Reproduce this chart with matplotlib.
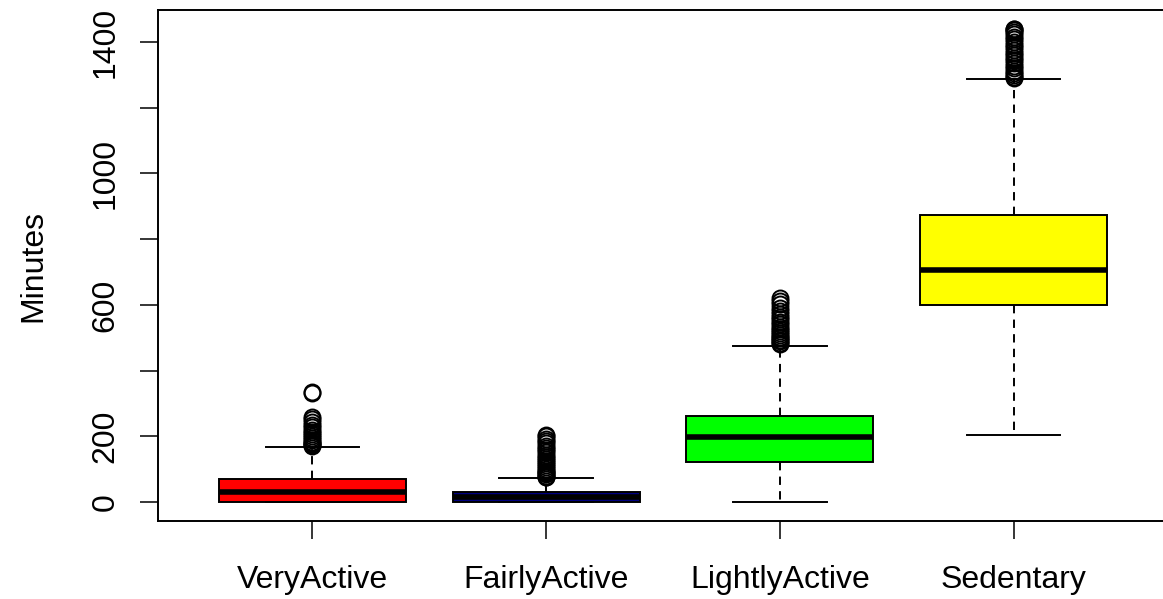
import matplotlib
matplotlib.use("Agg")
import matplotlib.pyplot as plt

plt.rcParams['font.family'] = ['Liberation Sans', 'DejaVu Sans']
plt.rcParams['lines.scale_dashes'] = False

# activity categories and box statistics (minutes)
categories = ['VeryActive', 'FairlyActive', 'LightlyActive', 'Sedentary']
box_colors = ['#ff0000', '#000080', '#00ff00', '#ffff00']
whislo = [0, 0, 0, 204]
q1 = [0, 0, 121, 601]
med = [30, 15, 199, 705]
q3 = [69, 32, 263, 875]
whishi = [168, 72, 476, 1287]

very_out = [336, 331, 258, 252, 244, 236, 228, 220, 213, 206, 200, 194, 188,
            184, 180, 177, 174, 172]
fairly_out = [205, 200, 193, 186, 179, 172, 165, 158, 151, 144, 137, 130, 124,
              118, 112, 106, 101, 96, 92, 88, 84, 80, 77, 75]
lightly_out = [622, 612, 602, 592, 582, 572, 564, 556, 548, 541, 534, 527, 521,
               515, 509, 503, 498, 493, 489, 485, 482]
sedentary_out = [1440, 1440, 1438, 1432, 1424, 1416, 1408, 1400, 1392, 1384,
                 1376, 1368, 1360, 1352, 1344, 1336, 1328, 1320, 1312, 1305,
                 1299, 1294, 1290]
outliers = [very_out, fairly_out, lightly_out, sedentary_out]

y_ticks = [0, 200, 400, 600, 800, 1000, 1200, 1400]
y_labels = ['0', '200', '', '600', '', '1000', '', '1400']

fig = plt.figure(figsize=(11.63, 5.99), dpi=100)
ax = fig.add_axes([158 / 1163, 78 / 599, 1010 / 1163, 511 / 599])

stats = []
for i in range(len(categories)):
    stats.append({'whislo': whislo[i], 'q1': q1[i], 'med': med[i],
                  'q3': q3[i], 'whishi': whishi[i], 'fliers': outliers[i],
                  'label': categories[i]})

bp = ax.bxp(stats, positions=[1, 2, 3, 4], widths=0.8, patch_artist=True,
            showfliers=True,
            boxprops=dict(edgecolor='black', linewidth=1.4),
            medianprops=dict(color='black', linewidth=4.0),
            whiskerprops=dict(color='black', linewidth=1.4,
                              linestyle=(0, (6, 4.5))),
            capprops=dict(color='black', linewidth=1.4),
            flierprops=dict(marker='o', markerfacecolor='none',
                            markeredgecolor='black', markersize=11.5,
                            markeredgewidth=1.4, linestyle='none'))
for patch, c in zip(bp['boxes'], box_colors):
    patch.set_facecolor(c)
# R style staples: half the box width
for cap in bp['caps']:
    x0, x1 = cap.get_xdata()
    xc = (x0 + x1) / 2
    cap.set_xdata([xc - 0.2, xc + 0.2])

ax.set_xlim(0.34, 4.66)
ax.set_ylim(-57.6, 1497.6)

ax.set_yticks(y_ticks)
ax.set_yticklabels(y_labels, rotation=90, va='center')
ax.set_xticks([1, 2, 3, 4])
ax.set_xticklabels(categories)
ax.tick_params(axis='both', direction='out', length=13, width=1.1,
               labelsize=23, colors='black')
ax.tick_params(axis='y', pad=14)
ax.tick_params(axis='x', pad=19)
ax.set_ylabel('Minutes', fontsize=23)
ax.yaxis.set_label_coords(-110 / 1010, 0.5)

for s in ax.spines.values():
    s.set_linewidth(1.4)
ax.spines['right'].set_visible(False)

fig.savefig('out.png', dpi=100)
